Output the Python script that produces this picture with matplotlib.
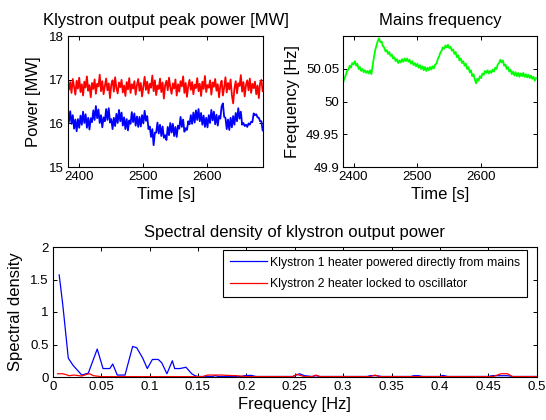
import numpy as np
import matplotlib
matplotlib.use("Agg")
import matplotlib.pyplot as plt

plt.rcParams['font.family'] = ['Liberation Sans', 'DejaVu Sans']

# time axis of the logged traces [s]
t_start = 2384
t_step = 2

# klystron 1 peak power [MW], heater fed straight from the mains
power_k1 = [
    16.04, 16.28, 15.99, 16.19, 15.88, 16.09, 15.82, 16.10, 15.90, 16.18,
    15.97, 16.27, 16.01, 16.21, 15.90, 16.13, 15.86, 16.12, 16.03, 16.30,
    16.08, 16.40, 16.12, 16.32, 16.01, 16.19, 15.91, 16.14, 16.05, 16.33,
    16.08, 16.35, 16.02, 16.10, 15.87, 16.13, 15.94, 16.22, 16.01, 16.31,
    16.05, 16.25, 15.95, 16.14, 15.87, 16.10, 15.84, 16.07, 15.99, 16.26,
    16.03, 16.23, 15.95, 16.16, 15.92, 16.15, 15.93, 16.19, 16.00, 16.29,
    16.06, 16.17, 15.87, 15.93, 15.69, 15.87, 15.50, 15.79, 15.79, 16.02,
    15.77, 15.97, 15.71, 15.93, 15.67, 15.73, 15.62, 15.92, 15.73, 16.01,
    15.79, 15.99, 15.71, 15.92, 15.69, 15.95, 15.88, 16.15, 15.92, 16.09,
    15.81, 15.89, 15.85, 16.05, 15.98, 16.19, 15.99, 16.25, 16.02, 16.30,
    16.08, 16.33, 16.05, 16.24, 15.97, 16.18, 15.92, 16.13, 15.91, 16.19,
    16.01, 16.31, 16.07, 16.27, 15.98, 16.20, 15.95, 16.17, 16.11, 16.39,
    16.46, 16.15, 16.13, 15.87, 16.09, 15.85, 16.13, 15.91, 16.17, 15.97,
    16.24, 16.05, 16.35, 16.11, 16.27, 15.97, 16.01, 15.94, 15.97, 15.92,
    16.00, 15.97, 16.04, 16.03, 16.23, 16.19, 16.21, 16.14, 16.13, 16.05,
    16.05, 15.84,
]

# klystron 2 peak power [MW], heater locked to the oscillator
power_k2 = [
    16.78, 16.95, 16.70, 17.02, 16.84, 16.66, 16.98, 16.80, 17.05, 16.72,
    16.90, 16.64, 16.96, 16.82, 17.08, 16.75, 16.88, 16.60, 16.93, 16.79,
    17.01, 16.68, 16.91, 16.85, 17.12, 16.74, 16.97, 16.67, 16.86, 17.03,
    16.76, 16.92, 16.58, 16.89, 16.99, 16.73, 17.06, 16.81, 16.69, 16.94,
    16.83, 17.00, 16.71, 16.87, 16.63, 16.95, 16.78, 17.04, 16.70, 16.90,
    16.80, 16.97, 16.66, 16.88, 17.02, 16.75, 16.93, 16.62, 16.84, 17.07,
    16.77, 16.96, 16.69, 16.91, 16.82, 17.10, 16.74, 16.99, 16.65, 16.87,
    16.79, 17.03, 16.72, 16.94, 16.57, 16.88, 16.98, 16.76, 17.05, 16.83,
    16.68, 16.92, 16.80, 17.01, 16.64, 16.90, 16.73, 16.97, 16.85, 17.08,
    16.70, 16.93, 16.61, 16.86, 17.00, 16.77, 16.95, 16.67, 16.89, 16.81,
    17.04, 16.74, 16.91, 16.63, 16.96, 16.79, 17.09, 16.72, 16.88, 16.82,
    16.99, 16.66, 16.94, 16.84, 17.02, 16.75, 16.90, 16.60, 16.87, 16.98,
    16.64, 16.83, 17.06, 16.71, 16.93, 16.78, 17.01, 16.65, 16.46, 16.80,
    16.97, 16.69, 16.92, 16.86, 17.11, 16.73, 16.95, 16.62, 16.88, 16.99,
    16.76, 17.03, 16.70, 16.91, 16.81, 16.96, 16.67, 16.87, 16.58, 16.93,
    17.00, 16.74,
]

# mains frequency [Hz]
mains_freq = [
    50.030, 50.036, 50.041, 50.047, 50.049, 50.055, 50.052, 50.059, 50.057, 50.062,
    50.055, 50.058, 50.050, 50.053, 50.047, 50.050, 50.045, 50.048, 50.044, 50.047,
    50.043, 50.048, 50.042, 50.055, 50.068, 50.079, 50.086, 50.093, 50.097, 50.091,
    50.092, 50.085, 50.083, 50.077, 50.079, 50.073, 50.076, 50.070, 50.072, 50.066,
    50.068, 50.062, 50.065, 50.059, 50.063, 50.060, 50.065, 50.061, 50.066, 50.062,
    50.066, 50.061, 50.064, 50.058, 50.062, 50.056, 50.059, 50.054, 50.058, 50.052,
    50.056, 50.050, 50.054, 50.048, 50.053, 50.047, 50.052, 50.048, 50.053, 50.049,
    50.054, 50.051, 50.057, 50.058, 50.065, 50.069, 50.075, 50.078, 50.083, 50.081,
    50.086, 50.083, 50.087, 50.082, 50.084, 50.078, 50.080, 50.073, 50.076, 50.068,
    50.071, 50.063, 50.066, 50.059, 50.062, 50.055, 50.058, 50.050, 50.053, 50.045,
    50.048, 50.039, 50.042, 50.034, 50.028, 50.035, 50.032, 50.039, 50.036, 50.043,
    50.041, 50.047, 50.044, 50.048, 50.043, 50.047, 50.044, 50.049, 50.046, 50.052,
    50.050, 50.057, 50.059, 50.064, 50.060, 50.063, 50.055, 50.057, 50.050, 50.053,
    50.046, 50.049, 50.042, 50.046, 50.040, 50.045, 50.039, 50.044, 50.038, 50.043,
    50.039, 50.044, 50.038, 50.042, 50.037, 50.041, 50.036, 50.040, 50.035, 50.038,
    50.032, 50.036,
]

# spectral density of the two power traces
psd_f1 = [0.0067, 0.0105, 0.0161, 0.021, 0.030, 0.0368, 0.046, 0.052, 0.059,
          0.062, 0.0667, 0.0747, 0.0826, 0.0868, 0.093, 0.0977, 0.103, 0.109,
          0.1126, 0.118, 0.1236, 0.126, 0.1315, 0.1377, 0.1436, 0.147, 0.150,
          0.165, 0.168, 0.171, 0.195, 0.198, 0.205, 0.210, 0.248, 0.255, 0.260,
          0.268, 0.272, 0.276, 0.325, 0.328, 0.335, 0.340, 0.370, 0.373, 0.378,
          0.382, 0.400, 0.403, 0.408, 0.450, 0.454, 0.470, 0.475, 0.500]
psd_k1 = [1.57, 1.10, 0.29, 0.18, 0.03, 0.06, 0.43, 0.13, 0.13,
          0.20, 0.03, 0.03, 0.47, 0.45, 0.29, 0.13, 0.27, 0.27,
          0.22, 0.05, 0.25, 0.13, 0.13, 0.15, 0.05, 0.02, 0.008,
          0.008, 0.02, 0.008, 0.008, 0.02, 0.025, 0.008, 0.008, 0.05, 0.02,
          0.008, 0.02, 0.008, 0.008, 0.02, 0.02, 0.008, 0.008, 0.02, 0.02,
          0.008, 0.008, 0.025, 0.008, 0.008, 0.02, 0.02, 0.008, 0.008]
psd_f2 = [0.005, 0.010, 0.013, 0.017, 0.022, 0.027, 0.030, 0.035, 0.038,
          0.042, 0.050, 0.155, 0.160, 0.175, 0.180, 0.190, 0.200, 0.248,
          0.252, 0.260, 0.268, 0.272, 0.276, 0.328, 0.333, 0.337, 0.455,
          0.463, 0.470, 0.475, 0.500]
psd_k2 = [0.05, 0.05, 0.04, 0.02, 0.03, 0.02, 0.015, 0.04, 0.05,
          0.02, 0.006, 0.006, 0.03, 0.03, 0.025, 0.02, 0.006, 0.006,
          0.04, 0.006, 0.006, 0.03, 0.006, 0.006, 0.03, 0.006, 0.006,
          0.05, 0.05, 0.006, 0.006]

t1 = t_start + t_step * np.arange(len(power_k1))
t2 = t_start + t_step * np.arange(len(power_k2))
tm = t_start + t_step * np.arange(len(mains_freq))

W, H = 546, 420
fig = plt.figure(figsize=(W / 100, H / 100), dpi=100)


def box(x0, y0, x1, y1):
    # pixel box -> figure fraction rect
    return [x0 / W, 1 - y1 / H, (x1 - x0) / W, (y1 - y0) / H]


def style(ax):
    for s in ax.spines.values():
        s.set_linewidth(0.8)
        s.set_color('k')
    ax.tick_params(direction='in', length=3, width=0.7, top=True, right=True,
                   labelsize=9.5, pad=3)


ax1 = fig.add_axes(box(68.3, 36.3, 263.3, 167))
ax2 = fig.add_axes(box(343.3, 36.3, 536.7, 167))
ax3 = fig.add_axes(box(52.7, 247, 536.7, 377))

ax1.plot(t1, power_k1, color=(0, 0, 1), lw=1.3)
ax1.plot(t2, power_k2, color=(1, 0, 0), lw=1.3)
ax1.set_xlim(2383, 2687)
ax1.set_ylim(15, 18)
ax1.set_xticks([2400, 2500, 2600])
ax1.set_yticks([15, 16, 17, 18])
ax1.set_title('Klystron output peak power [MW]', fontsize=12, pad=8)
ax1.set_xlabel('Time [s]', fontsize=12, labelpad=3)
ax1.set_ylabel('Power [MW]', fontsize=12, labelpad=6)
style(ax1)

ax2.plot(tm, mains_freq, color=(0, 1, 0), lw=1.3)
ax2.set_xlim(2384, 2687)
ax2.set_ylim(49.9, 50.1)
ax2.set_xticks([2400, 2500, 2600])
ax2.set_yticks([49.9, 49.95, 50, 50.05])
ax2.set_yticklabels(['49.9', '49.95', '50', '50.05'])
ax2.set_title('Mains frequency', fontsize=12, pad=8)
ax2.set_xlabel('Time [s]', fontsize=12, labelpad=3)
ax2.set_ylabel('Frequency [Hz]', fontsize=12, labelpad=4)
style(ax2)

ax3.plot(psd_f1, psd_k1, color=(0, 0, 1), lw=0.9,
         label='Klystron 1 heater powered directly from mains')
ax3.plot(psd_f2, psd_k2, color=(1, 0, 0), lw=0.9,
         label='Klystron 2 heater locked to oscillator')
ax3.set_xlim(0, 0.5)
ax3.set_ylim(0, 2)
xt = np.arange(0, 0.501, 0.05)
ax3.set_xticks(xt)
ax3.set_xticklabels(['0'] + ['%g' % round(v, 2) for v in xt[1:]])
ax3.set_yticks([0, 0.5, 1, 1.5, 2])
ax3.set_yticklabels(['0', '0.5', '1', '1.5', '2'])
ax3.set_title('Spectral density of klystron output power', fontsize=12, pad=7)
ax3.set_xlabel('Frequency [Hz]', fontsize=12, labelpad=3)
ax3.set_ylabel('Spectral density', fontsize=12, labelpad=5)
style(ax3)
leg = ax3.legend(loc='upper right', bbox_to_anchor=(0.98, 0.977),
                 borderaxespad=0, fontsize=8.8, fancybox=False, framealpha=1,
                 handlelength=3.0, handletextpad=0.3, labelspacing=0.75,
                 borderpad=0.55)
leg.get_frame().set_edgecolor('k')
leg.get_frame().set_linewidth(0.8)

fig.savefig('out.png', dpi=100)
